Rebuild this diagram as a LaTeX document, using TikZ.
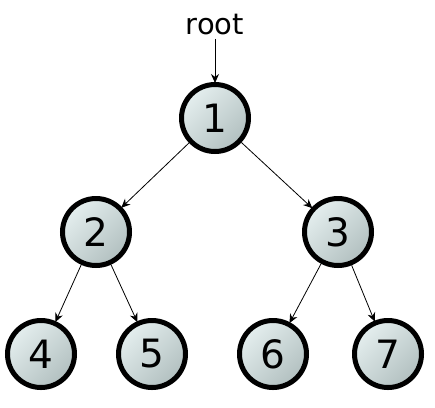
\documentclass[tikz,border=0pt]{standalone}
\usepackage{fontspec}
\setmainfont{DejaVu Sans}
\usetikzlibrary{arrows.meta}
\definecolor{lightfill}{HTML}{E4EEEE}
\definecolor{darkfill}{HTML}{B2C0C0}
\tikzset{
  tnode/.style={circle, minimum size=67pt, inner sep=0pt, line width=5pt, draw=black,
    top color=lightfill, bottom color=darkfill, shading angle=45, font=\fontsize{39}{39}\selectfont},
  edge/.style={line width=0.8pt, -{Stealth[length=9pt,width=8pt]}, shorten >=-1pt}
}
\begin{document}
\begin{tikzpicture}[x=1pt,y=-1pt]
\useasboundingbox (0,0) rectangle (435,407);
\node[font=\fontsize{29}{29}\selectfont] (r) at (215,25) {root};
\node[tnode] (n1) at (215,118) {1};
\node[tnode] (n2) at (96,232) {2};
\node[tnode] (n3) at (338,232) {3};
\node[tnode] (n4) at (41,354) {4};
\node[tnode] (n5) at (152,354) {5};
\node[tnode] (n6) at (273,354) {6};
\node[tnode] (n7) at (388,354) {7};
\draw[edge] (r) -- (n1);
\draw[edge] (n1) -- (n2);
\draw[edge] (n1) -- (n3);
\draw[edge] (n2) -- (n4);
\draw[edge] (n2) -- (n5);
\draw[edge] (n3) -- (n6);
\draw[edge] (n3) -- (n7);
\end{tikzpicture}
\end{document}
